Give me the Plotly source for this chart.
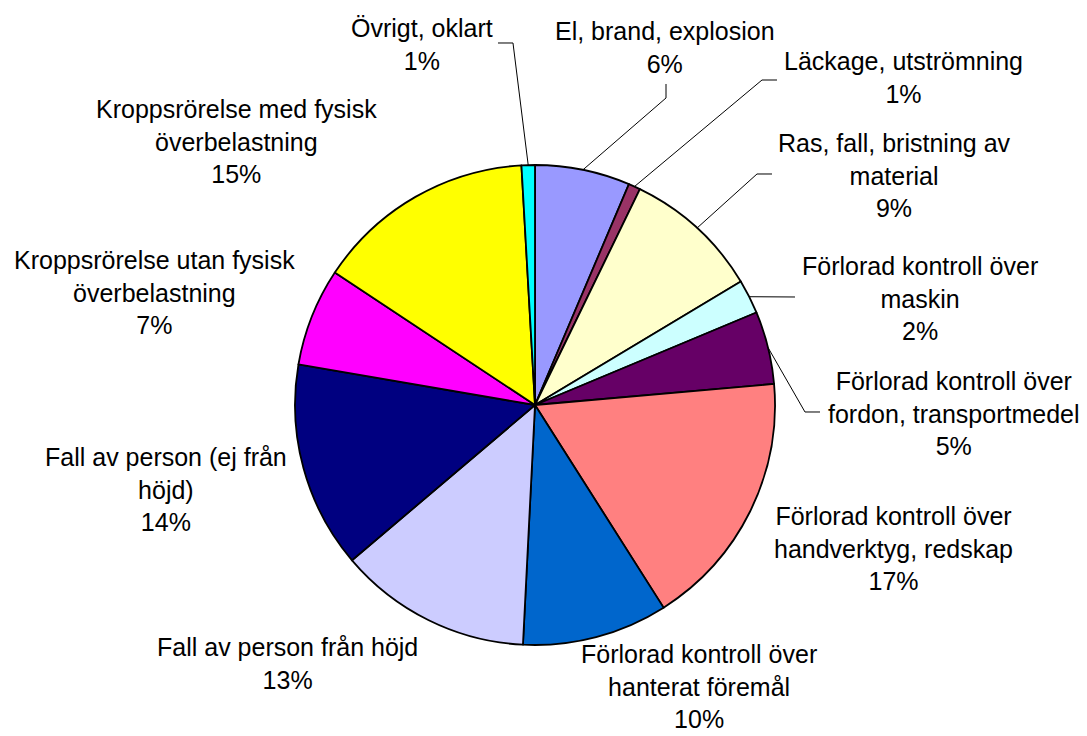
import math
import plotly.graph_objects as go

# ---------------- data ----------------
categories = [
    "El, brand, explosion",
    "Läckage, utströmning",
    "Ras, fall, bristning av material",
    "Förlorad kontroll över maskin",
    "Förlorad kontroll över fordon, transportmedel",
    "Förlorad kontroll över handverktyg, redskap",
    "Förlorad kontroll över hanterat föremål",
    "Fall av person från höjd",
    "Fall av person (ej från höjd)",
    "Kroppsrörelse utan fysisk överbelastning",
    "Kroppsrörelse med fysisk överbelastning",
    "Övrigt, oklart",
]
values = [6.4, 0.8, 9.2, 2.3, 4.9, 17.4, 9.8, 13.0, 13.9, 6.6, 14.8, 0.9]
colors = ["#9999FF", "#993366", "#FFFFCC", "#CCFFFF", "#660066", "#FF8080",
          "#0066CC", "#CCCCFF", "#000080", "#FF00FF", "#FFFF00", "#00FFFF"]

# wrapped label lines (display only)
label_lines = [
    ["El, brand, explosion"],
    ["Läckage, utströmning"],
    ["Ras, fall, bristning av", "material"],
    ["Förlorad kontroll över", "maskin"],
    ["Förlorad kontroll över", "fordon, transportmedel"],
    ["Förlorad kontroll över", "handverktyg, redskap"],
    ["Förlorad kontroll över", "hanterat föremål"],
    ["Fall av person från höjd"],
    ["Fall av person (ej från", "höjd)"],
    ["Kroppsrörelse utan fysisk", "överbelastning"],
    ["Kroppsrörelse med fysisk", "överbelastning"],
    ["Övrigt, oklart"],
]

# ---------------- layout ----------------
W, H = 1087, 736
CX, CY, R = 535, 405, 240

# label centre positions (px) and leader-line elbow points (px)
label_pos = [
    (665, 47), (903, 78), (894, 175), (920, 298), (954, 413), (893, 548),
    (699, 686), (287, 663), (166, 489), (154, 292), (236, 141), (422, 44),
]
leaders = {
    0: [(666, 98), (666, 84)],
    1: [(762, 80), (777, 80)],
    2: [(757, 174), (772, 174)],
    3: [(795, 297)],
    4: [(805, 412), (820, 412)],
    11: [(513, 43), (498, 43)],
}

def px(x):
    return x / W

def py(y):
    return 1 - y / H

fig = go.Figure(go.Pie(
    labels=categories,
    values=values,
    sort=False,
    direction="clockwise",
    rotation=0,
    marker=dict(colors=colors, line=dict(color="black", width=1.8)),
    textinfo="none",
    hoverinfo="label+percent",
    showlegend=False,
    domain=dict(x=[px(CX - R), px(CX + R)], y=[py(CY + R), py(CY - R)]),
))

total = sum(values)
annotations = []
shapes = []
cum = 0.0
for i, v in enumerate(values):
    mid = (cum + v / 2) / total * 2 * math.pi
    cum += v
    pct = f"{round(v / total * 100)}%"
    text = "<br>".join(label_lines[i] + [pct])
    lx, ly = label_pos[i]
    annotations.append(dict(
        x=px(lx), y=py(ly), xref="paper", yref="paper",
        text=text, showarrow=False, xanchor="center", yanchor="middle",
        align="center", borderpad=0,
        font=dict(family="Liberation Sans, Arial, sans-serif", size=25, color="black"),
    ))
    if i in leaders:
        ex = CX + R * math.sin(mid)
        ey = CY - R * math.cos(mid)
        pts = [(ex, ey)] + leaders[i]
        path = "M " + " L ".join(f"{px(a):.5f},{py(b):.5f}" for a, b in pts)
        shapes.append(dict(type="path", path=path, xref="paper", yref="paper",
                           line=dict(color="black", width=1)))

fig.update_layout(
    width=W, height=H,
    margin=dict(l=0, r=0, t=0, b=0),
    paper_bgcolor="white",
    plot_bgcolor="white",
    annotations=annotations,
    shapes=shapes,
)

fig.write_html("out.html", config={"displayModeBar": False},
               post_script="document.body.style.margin='0';")
